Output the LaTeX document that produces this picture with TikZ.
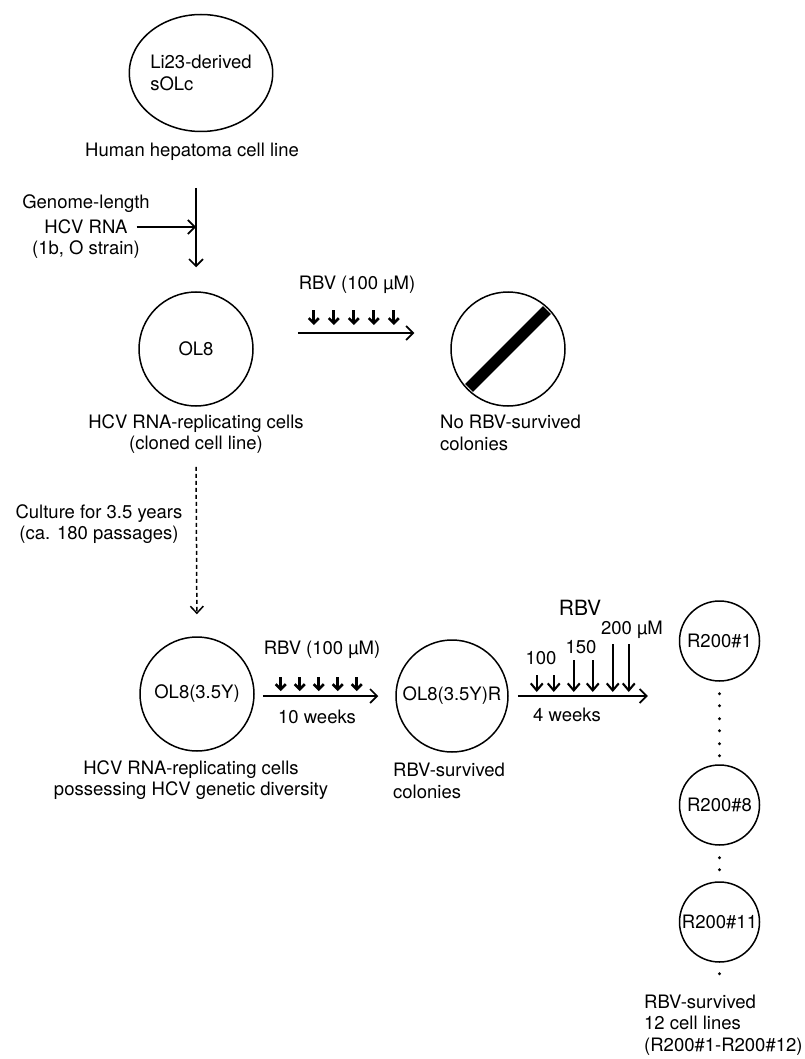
\documentclass[tikz,border=0pt]{standalone}
\usepackage{fontspec}
\setmainfont{TeX Gyre Heros}
\usetikzlibrary{arrows.meta,calc,shapes.geometric}
\begin{document}
\begin{tikzpicture}[x=1pt,y=-1pt,
  every node/.style={font=\fontsize{18.5}{21.5}\selectfont, inner sep=0pt},
  cell/.style={draw, circle, line width=1.5pt, inner sep=0pt},
  arr/.style={line width=1.7pt, -{Straight Barb[length=7pt,width=14pt]}},
  tick/.style={line width=2.6pt, -{Straight Barb[length=5pt,width=10pt]}},
  longtick/.style={line width=2.1pt, -{Straight Barb[length=7pt,width=12pt]}},
  dashedarr/.style={line width=1.5pt, dash pattern=on 4pt off 3pt, -{Straight Barb[length=7pt,width=13pt]}},
]
\useasboundingbox (0,0) rectangle (804,1059);

% top
\node[draw, ellipse, line width=1.5pt, minimum width=130pt, minimum height=117pt, align=left] (top) at (201,73) {Li23-derived\\sOLc};
\node (hum) at (192,152) {Human hepatoma cell line};
\node (gen1) at (86,204) {Genome-length};
\node (gen2) at (86,227) {HCV RNA};
\node (gen3) at (86,250) {(1b, O strain)};

% OL8
\node[cell, minimum size=114pt] (ol8) at (196,349) {OL8};
\draw[arr, shorten <=27pt, shorten >=24pt] (hum.south -| ol8.north) -- (ol8.north);
\draw[arr, shorten <=9pt] (gen2.east) -- (gen2.east -| ol8.north);
\node[align=center] (ol8lab) at (196,434) {HCV RNA-replicating cells\\(cloned cell line)};

% no survivors
\node[cell, minimum size=114pt] (no) at (508,349) {};
\draw[line width=11pt] ($(no.center)+(135:55)$) -- ($(no.center)+(-45:55)$);
\node[align=left, anchor=west] (nolab) at (440,433) {No RBV-survived\\colonies};
\draw[arr] ($(ol8.east)+(44,-16)$) -- ($(no.west)+(-36,-16)$);
\node (rbv1) at (357,285) {RBV (100 µM)};
\foreach \i in {0,...,4}
  \draw[tick] ($(ol8.east)+(60+20*\i,-39)$) -- ++(0,15);

% culture
\node[cell, minimum size=114pt] (ol835) at (197,694) {OL8(3.5Y)};
\draw[dashedarr, shorten <=13pt, shorten >=22pt] (ol8lab.south -| ol8.north) -- (ol835.north);
\node[align=center] (cult) at (99,524) {Culture for 3.5 years\\(ca. 180 passages)};
\node[align=center] (ol835lab) at (191,780) {HCV RNA-replicating cells\\possessing HCV genetic diversity};

% OL8(3.5Y)R
\node[cell, minimum size=112pt] (ocr) at (452,696) {OL8(3.5Y)R};
\draw[arr] ($(ol835.east)+(8,2)$) -- ($(ocr.west)+(-17,0)$);
\node (rbv2) at (322,650) {RBV (100 µM)};
\node (wk10) at (317,717) {10 weeks};
\foreach \i in {0,...,4}
  \draw[tick] ($(ol835.east)+(26+19*\i,-17)$) -- ++(0,14);
\node[align=left, anchor=west] (ocrlab) at (393,781) {RBV-survived\\colonies};

% R200
\node[cell, minimum size=80pt] (r1) at (719.5,641) {R200\#1};
\node[cell, minimum size=80pt] (r8) at (719.5,805) {R200\#8};
\node[cell, minimum size=80pt] (r11) at (719.5,922) {R200\#11};
\draw[arr] ($(ocr.east)+(9,0)$) -- ($(ocr.east)+(139,0)$);
\foreach \dx/\dy in {28/21,45/21,65/36,84/36,104/52,120/52}
  \draw[longtick] ($(ocr.east)+(\dx,-\dy)$) -- ($(ocr.east)+(\dx,-4)$);
\node (c100) at (541,658) {100};
\node (c150) at (581,647) {150};
\node (c200) at (632,630) {200 µM};
\node[font=\fontsize{21}{24}\selectfont] (rbv3) at (580,608) {RBV};
\node (wk4) at (567,715) {4 weeks};

\foreach \dy in {12,24,37,49,62,74}
  \fill ($(r1.south)+(0,\dy)$) circle (1.7);
\foreach \dy in {12,24}
  \fill ($(r8.south)+(0,\dy)$) circle (1.7);
\fill ($(r11.south)+(0,11)$) circle (1.7);
\node[align=left, anchor=west] (rlab) at (644,1025) {RBV-survived\\12 cell lines\\(R200\#1-R200\#12)};
\end{tikzpicture}
\end{document}
